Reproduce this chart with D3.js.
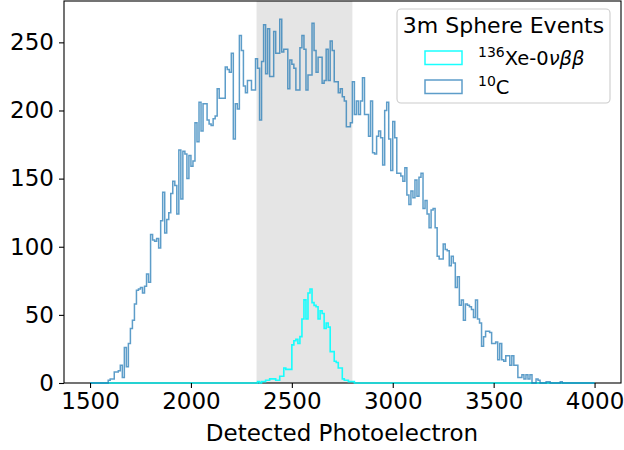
<!DOCTYPE html>
<html>
<head>
<meta charset="utf-8">
<script src="https://cdn.jsdelivr.net/npm/d3@7"></script>
<style>
  html, body { margin: 0; padding: 0; background: #fff; }
  svg { display: block; }
  text { font-family: "DejaVu Sans", sans-serif; }
</style>
</head>
<body>
<svg id="chart" width="624" height="450"></svg>
<script>
// ---- data ----
const binStart = 1500;
const binWidth = 10;
const xTicks = [1500, 2000, 2500, 3000, 3500, 4000];
const yTicks = [0, 50, 100, 150, 200, 250];
const bandRange = [2325, 2800];
const legendTitle = "3m Sphere Events";
const seriesNames = ["Xe", "C10"];

// 10C counts per 10-PE bin, 1500..4000
const c10Counts = [
  0,0,0,0,0,0,0,0,0,2,
  3,3,8,8,9,13,4,26,12,29,
  40,46,58,68,69,70,66,71,80,74,
  109,105,104,106,99,119,140,110,120,125,
  139,148,145,124,171,135,170,168,150,167,
  159,163,191,177,206,185,205,205,193,190,
  189,194,196,216,209,209,209,232,230,228,
  242,179,205,201,255,244,218,213,222,222,
  215,215,238,231,193,236,263,227,260,225,
  225,258,242,242,267,243,245,245,216,237,
  234,231,215,215,246,255,245,215,226,226,
  264,244,228,239,239,220,222,245,222,251,
  244,221,221,213,216,210,207,188,188,191,
  221,197,207,197,207,224,197,197,181,207,
  169,168,181,185,180,160,200,206,179,156,
  192,180,154,154,152,148,158,138,131,141,
  136,149,137,151,154,128,134,124,114,127,
  128,114,93,91,91,102,98,97,86,93,
  88,70,78,57,61,46,58,57,56,54,
  48,61,47,44,27,34,38,38,37,29,
  29,30,17,29,17,16,20,20,13,20,
  13,13,4,4,6,3,6,3,6,0,
  0,3,2,0,0,0,1,1,0,0,
  0,0,0,1,0,0,0,0,0,0,
  0,0,0,0,0,0,0,0,0,0
];

// 136Xe-0vbb counts per 10-PE bin, 1500..4000
const xeCounts = [
  0,0,0,0,0,0,0,0,0,0,
  0,0,0,0,0,0,0,0,0,0,
  0,0,0,0,0,0,0,0,0,0,
  0,0,0,0,0,0,0,0,0,0,
  0,0,0,0,0,0,0,0,0,0,
  0,0,0,0,0,0,0,0,0,0,
  0,0,0,0,0,0,0,0,0,0,
  0,0,0,0,0,0,0,0,0,0,
  0,0,0,1,0,1,1,2,2,3,
  3,3,2,2,5,5,11,10,10,10,
  28,31,32,29,34,47,61,47,66,69,
  59,57,56,47,53,51,40,44,41,23,
  23,16,15,11,11,3,2,2,1,1,
  1,0,0,0,0,0,0,0,0,0,
  0,0,0,0,0,0,0,0,0,0,
  0,0,0,0,0,0,0,0,0,0,
  0,0,0,0,0,0,0,0,0,0,
  0,0,0,0,0,0,0,0,0,0,
  0,0,0,0,0,0,0,0,0,0,
  0,0,0,0,0,0,0,0,0,0,
  0,0,0,0,0,0,0,0,0,0,
  0,0,0,0,0,0,0,0,0,0,
  0,0,0,0,0,0,0,0,0,0,
  0,0,0,0,0,0,0,0,0,0,
  0,0,0,0,0,0,0,0,0,0
];

// ---- layout ----
const L = 64, R = 621, T = 1, B = 383;
const svg = d3.select("#chart");
const FONT = "DejaVu Sans, sans-serif";
const TICKFS = 23;

const x = d3.scaleLinear().domain([1371, 4131]).range([L, R]);
const yMax = d3.max(c10Counts) * 1.05;
const y = d3.scaleLinear().domain([0, yMax]).range([B, T]);

// shaded band
svg.append("rect")
  .attr("x", x(bandRange[0])).attr("y", T)
  .attr("width", x(bandRange[1]) - x(bandRange[0]))
  .attr("height", B - T)
  .attr("fill", "#e5e5e5");

// spines
svg.append("rect")
  .attr("x", L).attr("y", T).attr("width", R - L).attr("height", B - T)
  .attr("fill", "none").attr("stroke", "#000").attr("stroke-width", 1.1);

function stepPoints(counts) {
  const pts = [[binStart, 0]];
  counts.forEach((c, i) => pts.push([binStart + i * binWidth, c]));
  const end = binStart + counts.length * binWidth;
  pts.push([end, counts[counts.length - 1]]);
  pts.push([end, 0]);
  return pts;
}
const line = d3.line()
  .x(d => x(d[0])).y(d => y(d[1]))
  .curve(d3.curveStepAfter);

const colors = { Xe: "#00ffff", C10: "#1f77b4" };
const opac = { Xe: 0.9, C10: 0.72 };

svg.append("path")
  .attr("d", line(stepPoints(xeCounts)))
  .attr("fill", "none")
  .attr("stroke", colors.Xe).attr("stroke-opacity", opac.Xe)
  .attr("stroke-width", 1.6);

svg.append("path")
  .attr("d", line(stepPoints(c10Counts)))
  .attr("fill", "none")
  .attr("stroke", colors.C10).attr("stroke-opacity", opac.C10)
  .attr("stroke-width", 1.5);

// axes
const xAxis = d3.axisBottom(x).tickValues(xTicks).tickFormat(d3.format("d"))
  .tickSize(5).tickPadding(5);
const gx = svg.append("g").attr("transform", `translate(0,${B})`).call(xAxis);
gx.select(".domain").remove();
gx.selectAll("line").attr("stroke", "#000").attr("stroke-width", 1.1);
gx.selectAll("text").attr("font-family", FONT).attr("font-size", TICKFS).attr("fill", "#000");

const yAxis = d3.axisLeft(y).tickValues(yTicks).tickFormat(d3.format("d"))
  .tickSize(5).tickPadding(5);
const gy = svg.append("g").attr("transform", `translate(${L},0)`).call(yAxis);
gy.select(".domain").remove();
gy.selectAll("line").attr("stroke", "#000").attr("stroke-width", 1.1);
gy.selectAll("text").attr("font-family", FONT).attr("font-size", TICKFS).attr("fill", "#000");

// x label
svg.append("text")
  .attr("x", (L + R) / 2 - 0.5).attr("y", 441)
  .attr("text-anchor", "middle")
  .attr("font-family", FONT).attr("font-size", TICKFS)
  .text("Detected Photoelectron");

// legend
const lg = svg.append("g");
lg.append("rect")
  .attr("x", 397).attr("y", 9).attr("width", 213).attr("height", 94)
  .attr("rx", 4).attr("ry", 4)
  .attr("fill", "#fff").attr("fill-opacity", 0.8)
  .attr("stroke", "#cccccc").attr("stroke-width", 1.1);
lg.append("text")
  .attr("x", 503.5).attr("y", 33)
  .attr("text-anchor", "middle")
  .attr("font-family", FONT).attr("font-size", 22)
  .text(legendTitle);

const entryY = [51, 80];
seriesNames.forEach((s, i) => {
  lg.append("rect")
    .attr("x", 425).attr("y", entryY[i]).attr("width", 37).attr("height", 13.5)
    .attr("fill", "none").attr("stroke", colors[s])
    .attr("stroke-opacity", opac[s]).attr("stroke-width", 1.5);
});

const t1 = lg.append("text")
  .attr("x", 478).attr("y", 64.5)
  .attr("font-family", FONT).attr("font-size", 19.5);
t1.append("tspan").attr("font-size", 14).attr("dy", -8).text("136");
t1.append("tspan").attr("dy", 8).text("Xe-0");
t1.append("tspan").attr("font-style", "italic").text("νββ");

const t2 = lg.append("text")
  .attr("x", 478).attr("y", 93.5)
  .attr("font-family", FONT).attr("font-size", 19.5);
t2.append("tspan").attr("font-size", 14).attr("dy", -8).text("10");
t2.append("tspan").attr("dy", 8).text("C");
</script>
</body>
</html>
